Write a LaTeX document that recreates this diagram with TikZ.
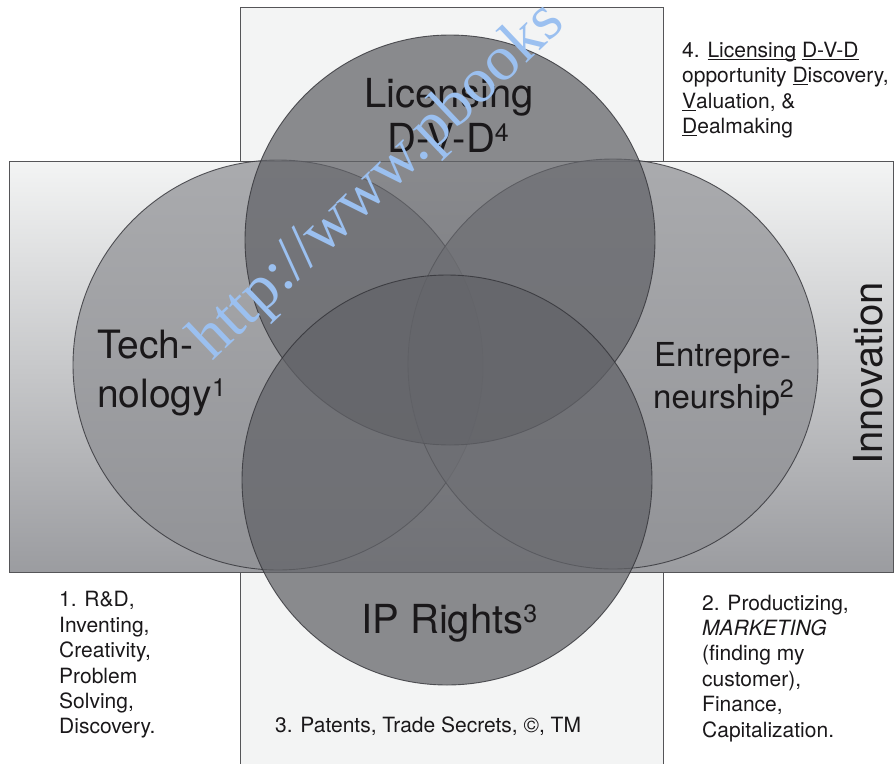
\documentclass[tikz,border=0pt]{standalone}
\usepackage{fontspec}
\setmainfont{TeX Gyre Heros}
\newfontfamily\wmfont{Liberation Serif}

\definecolor{panelfill}{RGB}{243,244,244}
\definecolor{bandtop}{RGB}{243,244,244}
\definecolor{bandbottom}{RGB}{155,156,160}
\definecolor{framec}{RGB}{85,85,88}
\definecolor{lightdisc}{RGB}{143,144,148}
\definecolor{darkdisc}{RGB}{98,99,104}
\definecolor{discedge}{RGB}{50,50,55}
\definecolor{inkc}{RGB}{26,24,26}
\definecolor{wmblue}{RGB}{155,192,240}

% superscript note markers
\newcommand\notemark[1]{\raisebox{11pt}{\fontsize{25}{25}\selectfont #1}}
% underline at a fixed depth, crossing descenders
\newsavebox\ulinebox
\newcommand\ulin[1]{\sbox\ulinebox{#1}\rlap{\rule[-3pt]{\wd\ulinebox}{1.1pt}}\usebox\ulinebox}

\begin{document}
\begin{tikzpicture}[x=1pt,y=-1pt,
  frame/.style={draw=framec,line width=0.9pt},
  disc/.style={circle,minimum size=410pt,inner sep=0pt,draw=discedge,
    line width=0.9pt,fill opacity=0.73,draw opacity=0.8},
  lightdisc/.style={disc,fill=lightdisc},
  darkdisc/.style={disc,fill=darkdisc},
  biglabel/.style={inner sep=0pt,text=inkc,anchor=base west,
    font=\fontsize{40}{48}\selectfont},
  midlabel/.style={biglabel,font=\fontsize{39}{46}\selectfont},
  smalllabel/.style={biglabel,font=\fontsize{33}{40}\selectfont},
  note/.style={inner sep=0pt,text=inkc,anchor=base west,
    font=\fontsize{21}{25}\selectfont},
  watermark/.style={inner sep=0pt,text=wmblue,anchor=base west,
    font=\wmfont\fontsize{64}{70}\selectfont}]
\useasboundingbox (0,0) rectangle (894,763);
\clip (0,0) rectangle (894,763);

% vertical panel behind everything
\path[frame,fill=panelfill] (240,7) rectangle (663,790);
% horizontal band with vertical gradient
\path[frame,top color=bandtop,bottom color=bandbottom] (9,161) rectangle (893,572);

% the four discs
\node[lightdisc] (tech) at (278,365) {};
\node[lightdisc] (entre) at (613,364) {};
\node[darkdisc] (lic) at (450,240) {};
\node[darkdisc] (ip) at (447,480) {};

% disc titles
\node[biglabel,anchor=base] (licA) at (449,107) {Licensing};
\node[biglabel,anchor=base] (licB) at (448,152) {D-V-D\notemark{4}};
\node[midlabel] (techA) at (97,358) {Tech-};
\node[midlabel] (techB) at (97,407) {nology\notemark{1}};
\node[smalllabel] (entA) at (654,366) {Entrepre-};
\node[smalllabel] (entB) at (653,408) {neurship\notemark{2}};
\node[biglabel] (ipA) at (361,633) {IP Rights\notemark{3}};
\node[biglabel,anchor=base,rotate=90] (innov) at (882,373.5) {Innovation};

% note 4
\node[note] (n4a) at (682,57) {4. \ulin{Licensing} \ulin{D-V-D}};
\node[note] (n4b) at (682,82) {opportunity \ulin{D}iscovery,};
\node[note] (n4c) at (682,108) {\ulin{V}aluation, \&};
\node[note] (n4d) at (682,133) {\ulin{D}ealmaking};

% note 1
\node[note] (n1a) at (59,606) {1. R\&D,};
\node[note] (n1b) at (59,632) {Inventing,};
\node[note] (n1c) at (59,657) {Creativity,};
\node[note] (n1d) at (59,683) {Problem};
\node[note] (n1e) at (59,708) {Solving,};
\node[note] (n1f) at (59,733) {Discovery.};

% note 2
\node[note] (n2a) at (702,610) {2. Productizing,};
\node[note] (n2b) at (702,635) {\itshape MARKETING};
\node[note] (n2c) at (702,660) {(finding my};
\node[note] (n2d) at (702,686) {customer),};
\node[note] (n2e) at (702,711) {Finance,};
\node[note] (n2f) at (702,737) {Capitalization.};

% note 3
\node[note] (n3) at (275,732) {3. Patents, Trade Secrets, ©, TM};

% diagonal web address stamp
\node[watermark,rotate=43.5] (wm) at (212,362) {http://www.pbooks};
\end{tikzpicture}
\end{document}
